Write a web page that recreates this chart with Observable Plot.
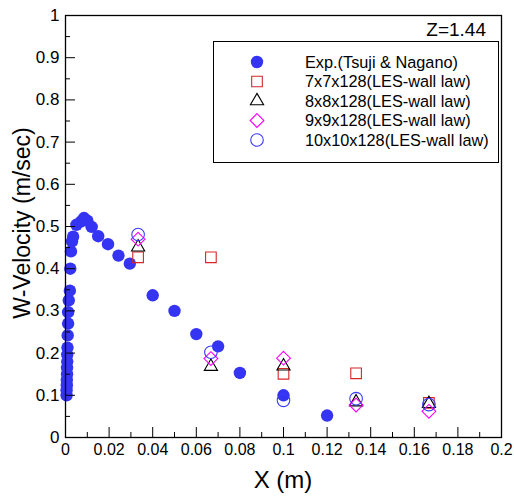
<!DOCTYPE html>
<html>
<head>
<meta charset="utf-8">
<script src="https://cdn.jsdelivr.net/npm/d3@7"></script>
<script src="https://cdn.jsdelivr.net/npm/@observablehq/plot@0.6"></script>
<style>
  html, body { margin: 0; padding: 0; background: #fff; }
  #chart svg { display: block; }
</style>
</head>
<body>
<div id="chart"></div>
<script>
// ---- data ----
const expX = [0.0005,0.0005,0.0006,0.0006,0.0007,0.0007,0.0008,0.0008,0.0009,0.0010,0.0012,0.0012,0.0015,0.0020,0.0022,0.0025,0.0030,0.0035,0.0050,0.0072,0.0085,0.0100,0.0120,0.0150,0.0195,0.0243,0.0295,0.0400,0.0500,0.0600,0.0700,0.0800,0.1000,0.1200];
const expW = [0.100,0.112,0.124,0.136,0.150,0.165,0.180,0.196,0.213,0.242,0.270,0.297,0.325,0.348,0.400,0.441,0.465,0.476,0.504,0.512,0.520,0.514,0.499,0.477,0.458,0.431,0.412,0.337,0.300,0.245,0.216,0.153,0.100,0.052];

const lesX = [0.0333, 0.0667, 0.1000, 0.1333, 0.1667];
const w7  = [0.427, 0.427, 0.151, 0.152, 0.082];
const w8  = [0.451, 0.168, 0.169, 0.084, 0.080];
const w9  = [0.470, 0.187, 0.188, 0.077, 0.062];
const w10 = [0.481, 0.202, 0.088, 0.092, 0.078];

const seriesNames = ["Exp.(Tsuji & Nagano)", "7x7x128(LES-wall law)", "8x8x128(LES-wall law)", "9x9x128(LES-wall law)", "10x10x128(LES-wall law)"];

const xMajor = [0, 0.02, 0.04, 0.06, 0.08, 0.1, 0.12, 0.14, 0.16, 0.18, 0.2];
const xMinor = [0.01, 0.03, 0.05, 0.07, 0.09, 0.11, 0.13, 0.15, 0.17, 0.19];
const yMajor = [0, 0.1, 0.2, 0.3, 0.4, 0.5, 0.6, 0.7, 0.8, 0.9, 1];
const yMinor = [0.05, 0.15, 0.25, 0.35, 0.45, 0.55, 0.65, 0.75, 0.85, 0.95];

const xLabel = "X (m)";
const yLabel = "W-Velocity (m/sec)";
const annotation = "Z=1.44";

// ---- styles ----
const FONT = "'Liberation Sans', Arial, Helvetica, sans-serif";
const styles = [
  {symbol: "circle",   fill: "#3434f2", stroke: "none",    r: 6.2},
  {symbol: "square",   fill: "none",    stroke: "#d62728", r: 6.0},
  {symbol: "triangle", fill: "none",    stroke: "#000000", r: 4.9},
  {symbol: "diamond2", fill: "none",    stroke: "#ff00ff", r: 6.2},
  {symbol: "circle",   fill: "none",    stroke: "#3b3bff", r: 6.3}
];

const expData = expX.map((x, i) => ({x, w: expW[i]}));
const lesSeries = [w7, w8, w9, w10].map(ws => lesX.map((x, i) => ({x, w: ws[i]})));

const W = 514, H = 497;
const mL = 65, mR = 13, mT = 15, mB = 60;
const xSpan = W - mL - mR, ySpan = H - mT - mB;
const majorPx = 10, minorPx = 5;

const marks = [
  Plot.dot(expData, {x: "x", y: "w", symbol: styles[0].symbol, r: styles[0].r, fill: styles[0].fill, stroke: null}),
  ...lesSeries.map((data, k) => {
    const s = styles[k + 1];
    return Plot.dot(data, {x: "x", y: "w", symbol: s.symbol, r: s.r, fill: "none", stroke: s.stroke, strokeWidth: 1.1});
  }),
  // inward ticks
  Plot.ruleX(xMajor, {x: d => d, y1: 0, y2: majorPx / ySpan, stroke: "#000", strokeWidth: 1}),
  Plot.ruleX(xMinor, {x: d => d, y1: 0, y2: minorPx / ySpan, stroke: "#000", strokeWidth: 1}),
  Plot.ruleY(yMajor, {y: d => d, x1: 0, x2: 0.2 * majorPx / xSpan, stroke: "#000", strokeWidth: 1}),
  Plot.ruleY(yMinor, {y: d => d, x1: 0, x2: 0.2 * minorPx / xSpan, stroke: "#000", strokeWidth: 1}),
  Plot.axisX(xMajor, {tickSize: 0, tickPadding: 6, tickFormat: d => `${d}`, fontSize: 16, fill: "#000", label: null}),
  Plot.axisY(yMajor, {tickSize: 0, tickPadding: 6, tickFormat: d => `${d}`, fontSize: 17, fill: "#000", label: null}),
  Plot.frame({stroke: "#000", strokeWidth: 1.3})
];

const chart = Plot.plot({
  width: W,
  height: H,
  marginLeft: mL,
  marginRight: mR,
  marginTop: mT,
  marginBottom: mB,
  style: {fontFamily: FONT, background: "#fff", color: "#000", overflow: "visible"},
  x: {domain: [0, 0.2]},
  y: {domain: [0, 1]},
  marks
});

document.getElementById("chart").appendChild(chart);

// ---- labels, annotation and legend (pixel layout) ----
const svg = d3.select(chart);
svg.append("text")
  .attr("x", (mL + W - mR) / 2).attr("y", 488)
  .attr("text-anchor", "middle")
  .style("font-family", FONT).style("font-size", "24px").attr("fill", "#000")
  .text(xLabel);
svg.append("text")
  .attr("transform", `translate(30,223) rotate(-90)`)
  .attr("text-anchor", "middle")
  .style("font-family", FONT).style("font-size", "23px").attr("fill", "#000")
  .text(yLabel);
svg.append("text")
  .attr("x", 486).attr("y", 36)
  .attr("text-anchor", "end")
  .style("font-family", FONT).style("font-size", "19px").attr("fill", "#000")
  .text(annotation);

const lg = svg.append("g");
lg.append("rect")
  .attr("x", 213.5).attr("y", 41.5).attr("width", 285).attr("height", 121)
  .attr("fill", "#fff").attr("stroke", "#000").attr("stroke-width", 1);
const symMap = {circle: d3.symbolCircle, square: d3.symbolSquare, triangle: d3.symbolTriangle, diamond2: d3.symbolDiamond2};
seriesNames.forEach((name, i) => {
  const y = 62 + i * 19.5;
  const s = styles[i];
  lg.append("path")
    .attr("transform", `translate(257,${y})`)
    .attr("d", d3.symbol(symMap[s.symbol], Math.PI * s.r * s.r)())
    .attr("fill", s.fill).attr("stroke", s.stroke === "none" ? null : s.stroke)
    .attr("stroke-width", 1.1);
  lg.append("text")
    .attr("x", 305).attr("y", y).attr("dy", "0.35em")
    .attr("text-anchor", "start")
    .style("font-family", FONT).style("font-size", "16.3px").attr("fill", "#000")
    .text(name);
});
</script>
</body>
</html>
